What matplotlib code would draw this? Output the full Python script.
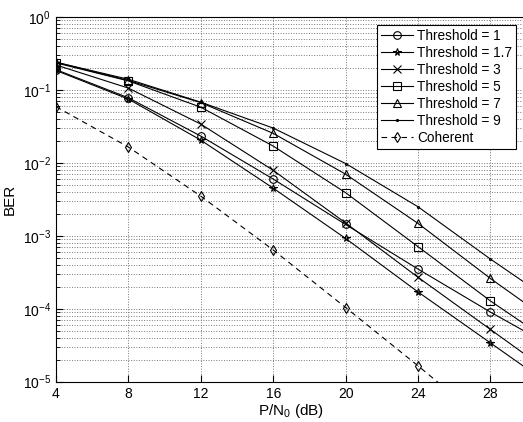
import numpy as np
import matplotlib
matplotlib.use("Agg")
import matplotlib.pyplot as plt
from matplotlib.ticker import LogLocator, NullFormatter

plt.rcParams["font.family"] = ["Liberation Sans", "DejaVu Sans"]
plt.rcParams["mathtext.fontset"] = "custom"
plt.rcParams["mathtext.rm"] = "Liberation Sans"
plt.rcParams["mathtext.it"] = "Liberation Sans:italic"

snr = [4, 8, 12, 16, 20, 24, 28, 32]

ber_t1 = [0.19, 0.078, 0.0233, 0.0060, 0.00143, 3.5e-4, 9.0e-5, 2.5e-5]
ber_t17 = [0.185, 0.075, 0.0205, 0.0045, 9.2e-4, 1.7e-4, 3.4e-5, 6.8e-6]
ber_t3 = [0.22, 0.106, 0.034, 0.0079, 0.0015, 2.7e-4, 5.2e-5, 1.0e-5]
ber_t5 = [0.235, 0.133, 0.058, 0.0170, 0.0039, 7.1e-4, 1.28e-4, 2.7e-5]
ber_t7 = [0.24, 0.135, 0.067, 0.0254, 0.0070, 0.00148, 2.6e-4, 5.1e-5]
ber_t9 = [0.24, 0.14, 0.068, 0.030, 0.0098, 0.0025, 4.8e-4, 1.0e-4]
ber_coh = [0.059, 0.0165, 0.0035, 6.4e-4, 1.04e-4, 1.65e-5, 2.5e-6, 4e-7]

series = [
    (ber_t1, "o", "-", "Threshold = 1"),
    (ber_t17, "*", "-", "Threshold = 1.7"),
    (ber_t3, "x", "-", "Threshold = 3"),
    (ber_t5, "s", "-", "Threshold = 5"),
    (ber_t7, "^", "-", "Threshold = 7"),
    (ber_t9, ".", "-", "Threshold = 9"),
    (ber_coh, "d", "--", "Coherent"),
]

fig = plt.figure(figsize=(5.23, 4.22), dpi=100)
ax = fig.add_axes([0.107, 0.0955, 0.9, 0.8642])

for vals, mk, ls, lab in series:
    ms = 3 if mk == "." else 5.5
    ax.semilogy(snr, vals, color="black", linestyle=ls, linewidth=0.8,
                marker=mk, markersize=ms, markerfacecolor="none",
                markeredgecolor="black", markeredgewidth=0.8, label=lab,
                dashes=(5, 4) if ls == "--" else (None, None))

ax.set_xlim(4, 30)
ax.set_ylim(1e-5, 1)
ax.set_xticks([4, 8, 12, 16, 20, 24, 28])
ax.yaxis.set_major_locator(LogLocator(base=10, numticks=10))
ax.yaxis.set_minor_locator(LogLocator(base=10, subs=np.arange(2, 10), numticks=10))
ax.yaxis.set_minor_formatter(NullFormatter())
ax.tick_params(which="both", direction="in", labelsize=10)
ax.tick_params(which="major", length=5)
ax.tick_params(which="minor", length=3)
ax.grid(True, which="major", linestyle=":", color="#777777", linewidth=0.7)
ax.grid(True, which="minor", axis="y", linestyle=":", color="#777777", linewidth=0.7)

ax.set_xlabel("P/N$_0$ (dB)", fontsize=11, labelpad=1)
ax.set_ylabel("BER", fontsize=11)

leg = ax.legend(loc="upper right", bbox_to_anchor=(0.977, 0.978), fontsize=9.8,
                frameon=True, fancybox=False, edgecolor="black",
                handlelength=2.3, labelspacing=0.22, borderpad=0.3,
                handletextpad=0.3, borderaxespad=0)
leg.get_frame().set_linewidth(0.8)
leg.get_frame().set_alpha(1)

fig.savefig("out.png", dpi=100)
